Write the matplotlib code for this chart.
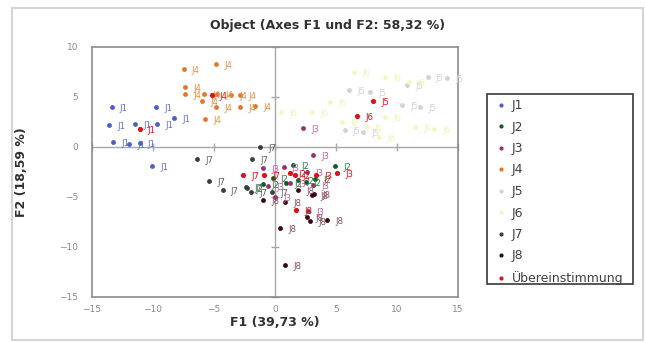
import matplotlib
matplotlib.use("Agg")
import matplotlib.pyplot as plt
from matplotlib.patches import Rectangle
from matplotlib.lines import Line2D

# Observation scores on the first two factor axes, grouped by judge
j1_x = [-13.4, -9.75, -13.6, -11.5, -9.7, -8.3, -13.3, -12.0, -11.1, -10.1]
j1_y = [4.0, 4.0, 2.2, 2.3, 2.3, 2.9, 0.5, 0.3, 0.4, -1.9]

j2_x = [-0.2, -2.3, 1.5, 1.9, 2.5, 4.9, 3.3, 0.9, -1.0]
j2_y = [-3.1, -4.1, -1.8, -3.3, -3.5, -1.9, -3.2, -3.6, -3.7]

j3_x = [2.3, 3.1, -1.0, 0.7, 1.2, 2.6, 3.1, 0.0, 2.7, -0.6]
j3_y = [1.9, -0.8, -2.1, -2.0, -3.6, -2.5, -3.8, -5.0, -6.4, -3.9]

j4_x = [-7.5, -4.8, -7.4, -7.4, -5.8, -4.75, -6.0, -3.6, -2.9, -4.8, -2.9, -1.6, -5.7]
j4_y = [7.8, 8.3, 6.0, 5.3, 5.3, 5.3, 4.6, 5.2, 5.2, 4.0, 4.0, 4.1, 2.8]

j5_x = [6.1, 7.8, 10.8, 12.5, 14.1, 10.4, 11.9, 5.7, 7.2]
j5_y = [5.7, 5.5, 6.2, 7.0, 6.9, 4.2, 4.0, 1.7, 1.5]

j6_x = [6.5, 9.0, 11.0, 11.5, 13.0, 3.0, 0.5, 5.5, 7.5, 9.0, 4.5, 8.5]
j6_y = [7.5, 7.0, 6.5, 2.0, 1.8, 3.5, 3.5, 2.5, 2.0, 3.0, 4.5, 1.0]

j7_x = [-1.2, -6.4, -1.9, -5.4, -4.3, -2.4, -2.0, -0.25]
j7_y = [0.0, -1.2, -1.2, -3.4, -4.3, -4.0, -4.5, -4.5]

j8_x = [-1.0, 0.8, 0.4, 0.8, 2.6, 2.9, 4.3, 3.2, 1.9, 3.0]
j8_y = [-5.3, -5.5, -8.1, -11.8, -7.0, -7.4, -7.3, -4.7, -4.3, -4.8]

agree_x = [-5.2, -11.1, 8.0, 6.7, -2.6, 1.7, -0.9, 1.2, 1.6, 3.4, 5.1]
agree_y = [5.2, 1.8, 4.6, 3.1, -2.8, -6.3, -2.8, -2.6, -2.8, -2.8, -2.6]
agree_labels = ["J4", "J1", "J5", "J6", "J7", "J8", "J7", "J2", "J2", "J3", "J3"]

series_names = ["J1", "J2", "J3", "J4", "J5", "J6", "J7", "J8", "Übereinstimmung"]
x_ticks = [-15, -10, -5, 0, 5, 10, 15]
y_ticks = [-15, -10, -5, 0, 5, 10]

series = [
    (j1_x, j1_y, "#4a5ec8", "#6070d0"),
    (j2_x, j2_y, "#0f5a25", "#2a8040"),
    (j3_x, j3_y, "#9a3070", "#c060a8"),
    (j4_x, j4_y, "#e0782a", "#e89040"),
    (j5_x, j5_y, "#d2d2d2", "#d4d4d4"),
    (j6_x, j6_y, "#f6f6c0", "#f2f2b8"),
    (j7_x, j7_y, "#3c3c3c", "#606060"),
    (j8_x, j8_y, "#3a0510", "#8a5060"),
]
agree_color = "#e0101a"

W, H = 645, 342
fig = plt.figure(figsize=(W / 100, H / 100), dpi=100)

# chart-area border
fig.patches.append(Rectangle((12 / W, 1 - 340 / H), 631 / W, 332 / H,
                             transform=fig.transFigure, fill=False,
                             edgecolor="#d4d4d4", linewidth=1.5))

ax = fig.add_axes([92 / W, 1 - 297 / H, 366 / W, 250 / H])
ax.set_xlim(-15, 15)
ax.set_ylim(-15, 10)

# origin axes with small tick crosses
ax.axhline(0, color="#a8a8a8", lw=1.0, zorder=1)
ax.axvline(0, color="#a8a8a8", lw=1.0, zorder=1)
ax.plot([0] * len(y_ticks), y_ticks, ls="none", marker="_", ms=6,
        mew=1.0, color="#a8a8a8", zorder=1, clip_on=False)
ax.plot(x_ticks, [0] * len(x_ticks), ls="none", marker="|", ms=6,
        mew=1.0, color="#a8a8a8", zorder=1, clip_on=False)

for name, (xs, ys, col, lcol) in zip(series_names, series):
    ax.scatter(xs, ys, s=12, color=col, zorder=3, linewidths=0)
    for x, y in zip(xs, ys):
        ax.annotate(name, (x, y), xytext=(6, -1), textcoords="offset points",
                    fontsize=6.2, color=lcol, va="center", ha="left", zorder=4)

ax.scatter(agree_x, agree_y, s=14, color=agree_color, zorder=5, linewidths=0)
for x, y, lab in zip(agree_x, agree_y, agree_labels):
    ax.annotate(lab, (x, y), xytext=(6, -1), textcoords="offset points",
                fontsize=6.2, color=agree_color, va="center", ha="left", zorder=5)

ax.set_xticks(x_ticks)
ax.set_yticks(y_ticks)
ax.tick_params(length=0, labelsize=6.5, labelcolor="#8a8a8a")
ax.tick_params(axis="x", pad=6)
ax.tick_params(axis="y", pad=10)
for sp in ax.spines.values():
    sp.set_color("#8c8c8c")
    sp.set_linewidth(1.2)

fig.text(328 / W, 1 - 26 / H, "Object (Axes F1 und F2: 58,32 %)", ha="center",
         va="center", fontsize=9, fontweight="bold", color="#303030")
fig.text(275 / W, 1 - 323 / H, "F1 (39,73 %)", ha="center", va="center",
         fontsize=9, fontweight="bold", color="#303030")
fig.text(22 / W, 1 - 172 / H, "F2 (18,59 %)", ha="center", va="center",
         rotation=90, fontsize=9, fontweight="bold", color="#303030")

# legend
fig.patches.append(Rectangle((487 / W, 1 - 284 / H), 146 / W, 190 / H,
                             transform=fig.transFigure, fill=False,
                             edgecolor="#3a3a3a", linewidth=1.2))
handles = [Line2D([], [], ls="none", marker="o", ms=3, color=c[2], mew=0)
           for c in series]
handles.append(Line2D([], [], ls="none", marker="o", ms=3, color=agree_color, mew=0))
leg = fig.legend(handles, series_names, loc="upper left",
                 bbox_to_anchor=(496 / W, 1 - 99 / H), frameon=False,
                 fontsize=9, labelspacing=0.68, handlelength=0.8,
                 handletextpad=0.45, borderpad=0, borderaxespad=0)
for t in leg.get_texts():
    t.set_color("#404040")

fig.savefig("out.png", dpi=100)
